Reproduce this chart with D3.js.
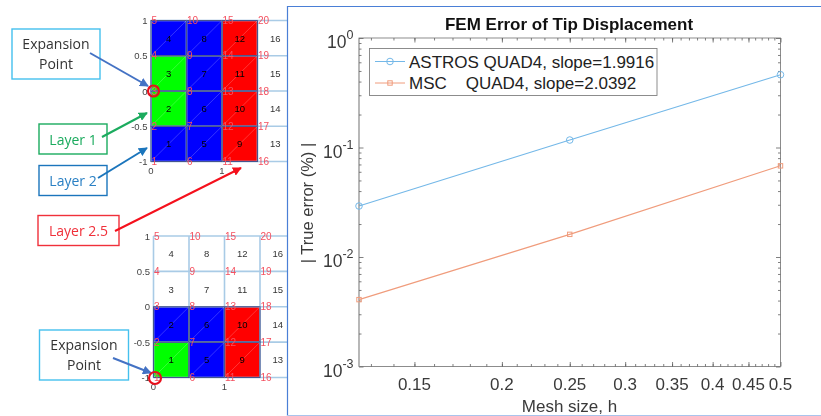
<!DOCTYPE html>
<html>
<head>
<meta charset="utf-8">
<script src="https://cdn.jsdelivr.net/npm/d3@7"></script>
<style>
html, body { margin: 0; padding: 0; background: #fff; }
svg { display: block; }
text { font-family: "Liberation Sans", Arial, sans-serif; white-space: pre; }
</style>
</head>
<body>
<div id="chart"></div>
<script>
// convergence data
var meshSize = [0.125, 0.25, 0.5];
var astrosError = [0.0292, 0.117, 0.462];
var mscError = [0.00408, 0.0161, 0.068];
var legendLabels = ["ASTROS QUAD4, slope=1.9916", "MSC    QUAD4, slope=2.0392"];
var xTickValues = [0.15, 0.2, 0.25, 0.3, 0.35, 0.4, 0.45, 0.5];
var xTickLabels = ["0.15", "0.2", "0.25", "0.3", "0.35", "0.4", "0.45", "0.5"];
var yTickValues = [1, 0.1, 0.01, 0.001];
var yTickExponents = ["0", "-1", "-2", "-3"];

// mesh data: element ids run up each column, nodes too
var meshColumns = [0, 0.5, 1, 1.5];
var meshRows = [-1, -0.5, 0, 0.5];
var nodeColumns = [0, 0.5, 1, 1.5];
var nodeRows = [-1, -0.5, 0, 0.5, 1];
var layersTop = ["blue", "lime", "lime", "blue", "blue", "blue", "blue", "blue", "red", "red", "red", "red", null, null, null, null];
var layersBottom = ["lime", "blue", null, null, "blue", "blue", null, null, "red", "red", null, null, null, null, null, null];

var w = 821,
h = 416;

var svg = d3.select("#chart")
.append("svg")
.attr("width", w)
.attr("height", h);

// ---------- left side ----------
var left = svg.append("g").style("filter", "blur(0.6px)");

function drawMesh(x0, yTop, yBottom, layers, tickYs) {
    var x = d3.scaleLinear().domain([0, 1]).range([x0, x0 + 71]);
    var y = d3.scaleLinear().domain([-1, 1]).range([yBottom, yTop]);
    var g = left.append("g");
    var cw = x(0.5) - x(0);
    var ch = y(-0.5) - y(0);

    var cells = [];
    meshColumns.forEach(function(c, i) {
        meshRows.forEach(function(r, j) {
            cells.push({c: c, r: r, id: i * meshRows.length + j + 1, fill: layers[i * meshRows.length + j]});
        });
    });

    g.selectAll(".cell")
    .data(cells.filter(function(d) {return d.fill;}))
    .enter()
    .append("rect")
    .attr("x", function(d) {return x(d.c);})
    .attr("y", function(d) {return y(d.r + 0.5);})
    .attr("width", cw)
    .attr("height", ch)
    .attr("fill", function(d) {return d.fill;});

    // grid, clipped at the panel frame
    var xEnd = 287;
    g.selectAll(".hline")
    .data(nodeRows)
    .enter()
    .append("line")
    .attr("x1", x(0))
    .attr("x2", xEnd)
    .attr("y1", function(d) {return y(d);})
    .attr("y2", function(d) {return y(d);})
    .attr("stroke", "#a9cbe6")
    .attr("stroke-width", 1.6);
    g.selectAll(".vline")
    .data(nodeColumns)
    .enter()
    .append("line")
    .attr("x1", function(d) {return x(d);})
    .attr("x2", function(d) {return x(d);})
    .attr("y1", y(1))
    .attr("y2", y(-1))
    .attr("stroke", "#a9cbe6")
    .attr("stroke-width", 1.6);

    // dark edges and faint diagonals over the coloured cells
    g.selectAll(".edge")
    .data(cells.filter(function(d) {return d.fill;}))
    .enter()
    .append("rect")
    .attr("x", function(d) {return x(d.c);})
    .attr("y", function(d) {return y(d.r + 0.5);})
    .attr("width", cw)
    .attr("height", ch)
    .attr("fill", "none")
    .attr("stroke", "#46548e")
    .attr("stroke-width", 1.1);
    g.selectAll(".diag")
    .data(cells.filter(function(d) {return d.fill;}))
    .enter()
    .append("line")
    .attr("x1", function(d) {return x(d.c);})
    .attr("y1", function(d) {return y(d.r);})
    .attr("x2", function(d) {return x(d.c + 0.5);})
    .attr("y2", function(d) {return y(d.r + 0.5);})
    .attr("stroke", "#fff")
    .attr("stroke-opacity", 0.3)
    .attr("stroke-width", 0.7);

    // element numbers
    g.selectAll(".elem")
    .data(cells)
    .enter()
    .append("text")
    .attr("x", function(d) {return x(d.c + 0.25);})
    .attr("y", function(d) {return y(d.r + 0.25) + 3.5;})
    .attr("text-anchor", "middle")
    .attr("font-size", "9.5px")
    .attr("fill", function(d) {return d.fill ? "#000" : "#333";})
    .text(function(d) {return d.id;});

    // node numbers
    var nodes = [];
    nodeColumns.forEach(function(c, i) {
        nodeRows.forEach(function(r, j) {
            nodes.push({c: c, r: r, id: i * nodeRows.length + j + 1});
        });
    });
    g.selectAll(".node")
    .data(nodes)
    .enter()
    .append("text")
    .attr("x", function(d) {return x(d.c) + 0.5;})
    .attr("y", function(d) {return y(d.r) + 3.5;})
    .attr("font-size", "10px")
    .attr("fill", "#f4505f")
    .text(function(d) {return d.id;});

    // axis labels
    g.selectAll(".ytick")
    .data(tickYs)
    .enter()
    .append("text")
    .attr("x", x(0) - 3.5)
    .attr("y", function(d) {return y(d) + 3.5;})
    .attr("text-anchor", "end")
    .attr("font-size", "9.5px")
    .attr("fill", "#444")
    .text(function(d) {return d;});
    g.selectAll(".xtick")
    .data([0, 1])
    .enter()
    .append("text")
    .attr("x", function(d) {return x(d);})
    .attr("y", y(-1) + 12)
    .attr("text-anchor", "middle")
    .attr("font-size", "9.5px")
    .attr("fill", "#444")
    .text(function(d) {return d;});
}

drawMesh(151, 20.5, 161.5, layersTop, [-1, -0.5, 0, 0.5, 1]);
drawMesh(153.5, 236, 377.5, layersBottom, [-1, -0.5, 0, 0.5, 1]);

// callout boxes
var boxes = [
    {x: 12, y: 29, w: 88, h: 50, color: "#45c0ee", text: ["Expansion", "Point"], fill: "#333"},
    {x: 39, y: 124, w: 68, h: 30, color: "#1bab5e", text: ["Layer 1"], fill: "#1bab5e"},
    {x: 39, y: 165.5, w: 68, h: 30, color: "#1b75bc", text: ["Layer 2"], fill: "#2a80c4"},
    {x: 38, y: 215.5, w: 81, h: 30, color: "#f0303a", text: ["Layer 2.5"], fill: "#f0303a"},
    {x: 39.5, y: 330, w: 89, h: 50, color: "#45c0ee", text: ["Expansion", "Point"], fill: "#333"}
];
boxes.forEach(function(b) {
    left.append("rect")
    .attr("x", b.x)
    .attr("y", b.y)
    .attr("width", b.w)
    .attr("height", b.h)
    .attr("fill", "#fff")
    .attr("stroke", b.color)
    .attr("stroke-width", 1.4);
    b.text.forEach(function(t, i) {
        left.append("text")
        .attr("x", b.x + b.w / 2)
        .attr("y", b.y + (b.text.length == 1 ? 20.5 : 20 + i * 20))
        .attr("text-anchor", "middle")
        .style("font-family", "'Open Sans'")
        .attr("font-size", "14px")
        .attr("fill", b.fill)
        .text(t);
    });
});

// callout arrows
var defs = svg.append("defs");
var arrows = [
    {x1: 90, y1: 53, x2: 148, y2: 86, color: "#4472c4"},
    {x1: 102, y1: 137, x2: 147, y2: 113, color: "#1bab5e"},
    {x1: 98, y1: 178, x2: 147, y2: 148, color: "#1b75bc"},
    {x1: 115, y1: 231, x2: 241, y2: 168, color: "#f5101c"},
    {x1: 113, y1: 358, x2: 151, y2: 373, color: "#4472c4"}
];
arrows.forEach(function(a, i) {
    defs.append("marker")
    .attr("id", "arrow" + i)
    .attr("viewBox", "0 0 10 10")
    .attr("refX", 9)
    .attr("refY", 5)
    .attr("markerWidth", 4.5)
    .attr("markerHeight", 4.5)
    .attr("orient", "auto")
    .append("path")
    .attr("d", "M0,0L10,5L0,10z")
    .attr("fill", a.color);
    left.append("line")
    .attr("x1", a.x1)
    .attr("y1", a.y1)
    .attr("x2", a.x2)
    .attr("y2", a.y2)
    .attr("stroke", a.color)
    .attr("stroke-width", 2)
    .attr("marker-end", "url(#arrow" + i + ")");
});

// expansion point rings
left.selectAll(".ring")
.data([[153.5, 91, 5.5], [155, 378, 6]])
.enter()
.append("circle")
.attr("cx", function(d) {return d[0];})
.attr("cy", function(d) {return d[1];})
.attr("r", function(d) {return d[2];})
.attr("fill", "none")
.attr("stroke", "#e8101c")
.attr("stroke-width", 2.2);

// ---------- panel frame ----------
svg.append("path")
.attr("d", "M287.5,416V6.5H821")
.attr("fill", "none")
.attr("stroke", "#4a7fd6")
.attr("stroke-width", 1.2);
svg.append("line")
.attr("x1", 287)
.attr("x2", 821)
.attr("y1", 415.5)
.attr("y2", 415.5)
.attr("stroke", "#a9c4ec")
.attr("stroke-width", 1.2);

// ---------- error plot ----------
var plot = svg.append("g").style("filter", "blur(0.45px)");
var px0 = 359, px1 = 780.5, py0 = 38, py1 = 366.5;

var x = d3.scaleLog().domain([0.125, 0.5]).range([px0, px1]);
var y = d3.scaleLog().domain([0.001, 1]).range([py1, py0]);

var xMinor = d3.range(13, 50).map(function(d) {return d / 100;});
var yMinor = y.ticks().filter(function(d) {return yTickValues.indexOf(d) < 0;});

// frame lines
plot.append("rect")
.attr("x", px0)
.attr("y", py0)
.attr("width", px1 - px0)
.attr("height", py1 - py0)
.attr("fill", "none")
.attr("stroke", "#808080")
.attr("stroke-width", 0.9);
plot.append("line")
.attr("x1", px0)
.attr("x2", px0)
.attr("y1", py0)
.attr("y2", py1)
.attr("stroke", "#b4b4b4")
.attr("stroke-width", 1.6);

function inwardTicks(axis, size, tickValues, translate) {
    var g = plot.append("g")
    .attr("transform", translate)
    .call(axis.tickValues(tickValues).tickSize(size).tickFormat(""));
    g.select(".domain").remove();
    g.selectAll("line").attr("stroke", "#606060").attr("stroke-width", 0.8);
    g.selectAll("text").remove();
}

// ticks point into the plot on all four sides
inwardTicks(d3.axisTop(x), 4.5, xTickValues, "translate(0," + py1 + ")");
inwardTicks(d3.axisTop(x), 2.5, xMinor, "translate(0," + py1 + ")");
inwardTicks(d3.axisBottom(x), 4.5, xTickValues, "translate(0," + py0 + ")");
inwardTicks(d3.axisBottom(x), 2.5, xMinor, "translate(0," + py0 + ")");
inwardTicks(d3.axisRight(y), 4.5, yTickValues, "translate(" + px0 + ",0)");
inwardTicks(d3.axisRight(y), 2.5, yMinor, "translate(" + px0 + ",0)");
inwardTicks(d3.axisLeft(y), 4.5, yTickValues, "translate(" + px1 + ",0)");
inwardTicks(d3.axisLeft(y), 2.5, yMinor, "translate(" + px1 + ",0)");

// tick labels
plot.selectAll(".xlabel")
.data(xTickValues)
.enter()
.append("text")
.attr("x", function(d) {return x(d);})
.attr("y", 389.5)
.attr("text-anchor", "middle")
.attr("font-size", "17px")
.attr("fill", "#3a3a3a")
.text(function(d, i) {return xTickLabels[i];});

var ylabels = plot.selectAll(".ylabel")
.data(yTickValues)
.enter()
.append("text")
.attr("x", 353.5)
.attr("y", function(d) {return y(d) + 10;})
.attr("text-anchor", "end")
.attr("font-size", "17.5px")
.attr("fill", "#3a3a3a");
ylabels.append("tspan").text("10");
ylabels.append("tspan")
.attr("dy", -9)
.attr("font-size", "12.5px")
.text(function(d, i) {return yTickExponents[i];});

// titles
plot.append("text")
.attr("x", 569)
.attr("y", 29.5)
.attr("text-anchor", "middle")
.attr("font-size", "17px")
.attr("font-weight", "bold")
.attr("fill", "#111")
.text("FEM Error of Tip Displacement");
plot.append("text")
.attr("x", 569.5)
.attr("y", 412)
.attr("text-anchor", "middle")
.attr("font-size", "17px")
.attr("fill", "#3a3a3a")
.text("Mesh size, h");
plot.append("text")
.attr("transform", "translate(313,203) rotate(-90)")
.attr("text-anchor", "middle")
.attr("font-size", "16.5px")
.attr("fill", "#3a3a3a")
.text("| True error (%) |");

// series
var line = d3.line()
.x(function(d) {return x(d[0]);})
.y(function(d) {return y(d[1]);});

var astrosColor = "#74b8e8",
mscColor = "#f09c7c";
plot.append("path")
.attr("d", line(d3.zip(meshSize, astrosError)))
.attr("fill", "none")
.attr("stroke", astrosColor)
.attr("stroke-width", 1.1);
plot.append("path")
.attr("d", line(d3.zip(meshSize, mscError)))
.attr("fill", "none")
.attr("stroke", mscColor)
.attr("stroke-width", 1.1);
plot.selectAll(".astros")
.data(d3.zip(meshSize, astrosError))
.enter()
.append("circle")
.attr("cx", function(d) {return x(d[0]);})
.attr("cy", function(d) {return y(d[1]);})
.attr("r", 3.3)
.attr("fill", "none")
.attr("stroke", astrosColor);
plot.selectAll(".msc")
.data(d3.zip(meshSize, mscError))
.enter()
.append("rect")
.attr("x", function(d) {return x(d[0]) - 2.2;})
.attr("y", function(d) {return y(d[1]) - 2.2;})
.attr("width", 4.4)
.attr("height", 4.4)
.attr("fill", "none")
.attr("stroke", mscColor);

// legend
plot.append("rect")
.attr("x", 369.5)
.attr("y", 48.5)
.attr("width", 287.5)
.attr("height", 47)
.attr("fill", "#fff")
.attr("stroke", "#808080")
.attr("stroke-width", 0.9);
[astrosColor, mscColor].forEach(function(color, i) {
    var ly = 61.5 + i * 21.5;
    plot.append("line")
    .attr("x1", 375)
    .attr("x2", 405)
    .attr("y1", ly)
    .attr("y2", ly)
    .attr("stroke", color);
    if (i == 0) {
        plot.append("circle")
        .attr("cx", 390)
        .attr("cy", ly)
        .attr("r", 3.3)
        .attr("fill", "none")
        .attr("stroke", color);
    } else {
        plot.append("rect")
        .attr("x", 387.8)
        .attr("y", ly - 2.2)
        .attr("width", 4.4)
        .attr("height", 4.4)
        .attr("fill", "none")
        .attr("stroke", color);
    }
    plot.append("text")
    .attr("x", 409)
    .attr("y", ly + 6)
    .attr("font-size", "17px")
    .attr("fill", "#222")
    .text(legendLabels[i]);
});
</script>
</body>
</html>
